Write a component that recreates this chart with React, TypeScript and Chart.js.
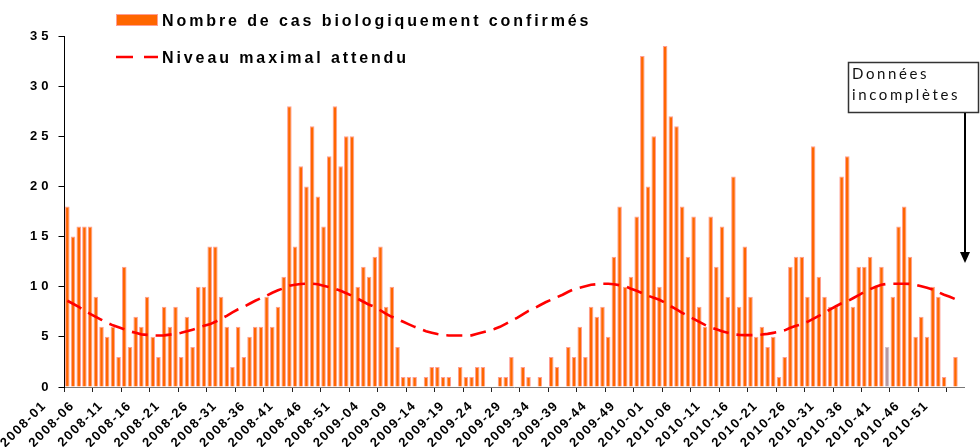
import React, { useEffect, useRef } from 'react';
import { Chart, registerables } from 'chart.js';

Chart.register(...registerables);

// ---- Data -------------------------------------------------------------
const YEARS = [2008, 2009, 2010, 2011];
const WEEKS_PER_YEAR = [52, 53, 52, 1];

const CASES_2008 = [18, 15, 16, 16, 16, 9, 6, 5, 6, 3, 12, 4, 7, 6, 9, 5, 3, 8, 6, 8, 3, 7, 4, 10, 10, 14, 14, 9, 6, 2, 6, 3, 5, 6, 6, 9, 6, 8, 11, 28, 14, 22, 20, 26, 19, 16, 23, 28, 22, 25, 25, 10];
const CASES_2009 = [12, 11, 13, 14, 8, 10, 4, 1, 1, 1, 0, 1, 2, 2, 1, 1, 0, 2, 1, 1, 2, 2, 0, 0, 1, 1, 3, 0, 2, 1, 0, 1, 0, 3, 2, 0, 4, 3, 6, 3, 8, 7, 8, 5, 13, 18, 10, 11, 17, 33, 20, 25, 10];
const CASES_2010 = [34, 27, 26, 18, 13, 17, 8, 6, 17, 12, 16, 9, 21, 8, 14, 9, 5, 6, 4, 5, 1, 3, 12, 13, 13, 9, 24, 11, 9, 8, 8, 21, 23, 8, 12, 12, 13, 10, 12, 4, 9, 16, 18, 13, 5, 7, 5, 10, 9, 1, 0, 3];
const CASES_2011 = [null];

const MAX_2008 = [8.6, 8.3, 8.0, 7.6, 7.3, 7.0, 6.7, 6.4, 6.15, 5.95, 5.75, 5.55, 5.4, 5.25, 5.2, 5.15, 5.13, 5.15, 5.22, 5.3, 5.4, 5.55, 5.72, 5.9, 6.1, 6.25, 6.5, 6.8, 7.1, 7.45, 7.75, 8.0, 8.3, 8.6, 8.85, 9.1, 9.4, 9.65, 9.85, 10.1, 10.2, 10.27, 10.3, 10.3, 10.25, 10.1, 9.95, 9.8, 9.6, 9.35, 9.1, 8.8];
const MAX_2009 = [8.5, 8.2, 8.0, 7.65, 7.3, 7.0, 6.75, 6.5, 6.25, 6.0, 5.78, 5.57, 5.42, 5.28, 5.17, 5.14, 5.13, 5.13, 5.13, 5.15, 5.3, 5.45, 5.6, 5.78, 6.0, 6.3, 6.6, 6.9, 7.25, 7.6, 7.85, 8.15, 8.45, 8.7, 8.95, 9.2, 9.5, 9.75, 9.9, 10.05, 10.2, 10.25, 10.3, 10.3, 10.25, 10.15, 10.05, 9.8, 9.6, 9.35, 9.1, 8.9, 8.7];
const MAX_2010 = [8.4, 8.05, 7.75, 7.4, 7.1, 6.8, 6.5, 6.2, 5.95, 5.75, 5.55, 5.4, 5.25, 5.2, 5.17, 5.17, 5.18, 5.23, 5.3, 5.4, 5.5, 5.65, 5.9, 6.1, 6.25, 6.5, 6.8, 7.1, 7.4, 7.75, 8.05, 8.35, 8.55, 8.85, 9.15, 9.5, 9.75, 10.0, 10.2, 10.28, 10.3, 10.3, 10.3, 10.28, 10.2, 10.05, 9.9, 9.72, 9.45, 9.2, 9.0, 8.75];
const MAX_2011 = [8.5];

const Y_MIN = 0;
const Y_MAX = 35;
const Y_STEP = 5;
const LABEL_EVERY = 5;

const SERIES_CASES = 'Nombre de cas biologiquement confirmés';
const SERIES_MAX = 'Niveau maximal attendu';
const NOTE_LINES = ['Données', 'incomplètes'];
const HIGHLIGHT_WEEK = '2010-40';

// ---- Derived tables -------------------------------------------------------
const WEEK_LABELS: string[] = YEARS.flatMap((year, i) =>
  Array.from({ length: WEEKS_PER_YEAR[i] }, (_, w) => `${year}-${String(w + 1).padStart(2, '0')}`)
);
const CASES = [...CASES_2008, ...CASES_2009, ...CASES_2010, ...CASES_2011];
const MAX_LEVEL = [...MAX_2008, ...MAX_2009, ...MAX_2010, ...MAX_2011];

const ORANGE = '#FF6600';
const ORANGE_EDGE = '#FF9E94';
const RED = '#FF0000';
const FONT = 'Liberation Sans';

const overlay = {
  id: 'overlay',
  beforeDraw(chart: any) {
    chart.ctx.letterSpacing = '4px';
  },
  afterDatasetsDraw(chart: any) {
    chart.ctx.letterSpacing = '1.6px';
  },
  afterDraw(chart: any) {
    const ctx = chart.ctx as CanvasRenderingContext2D;
    ctx.save();
    (ctx as any).letterSpacing = '2.9px';
    // legend row 1
    ctx.fillStyle = ORANGE;
    ctx.fillRect(116, 14, 42, 12);
    ctx.strokeStyle = ORANGE_EDGE;
    ctx.lineWidth = 1;
    ctx.strokeRect(116.5, 14.5, 41, 11);
    ctx.fillStyle = '#000';
    ctx.font = `bold 16px "${FONT}"`;
    ctx.textBaseline = 'alphabetic';
    ctx.textAlign = 'left';
    ctx.fillText(SERIES_CASES, 162, 26);
    // legend row 2
    ctx.strokeStyle = RED;
    ctx.lineWidth = 2.5;
    ctx.setLineDash([17, 11]);
    ctx.beginPath();
    ctx.moveTo(116, 57);
    ctx.lineTo(158, 57);
    ctx.stroke();
    ctx.setLineDash([]);
    ctx.fillText(SERIES_MAX, 162, 63);

    // annotation box
    const ax = chart.scales.x.right + 1;
    ctx.strokeStyle = '#333';
    ctx.lineWidth = 1.5;
    ctx.strokeRect(848.5, 62.5, 130, 50);
    (ctx as any).letterSpacing = '2.6px';
    ctx.font = `15px Lato`;
    ctx.fillStyle = '#111';
    ctx.fillText(NOTE_LINES[0], 852, 79);
    ctx.fillText(NOTE_LINES[1], 852, 100);
    // arrow
    ctx.strokeStyle = '#000';
    ctx.lineWidth = 2;
    ctx.beginPath();
    ctx.moveTo(ax, 113);
    ctx.lineTo(ax, 255);
    ctx.stroke();
    ctx.fillStyle = '#000';
    ctx.beginPath();
    ctx.moveTo(ax - 5, 252);
    ctx.lineTo(ax + 5, 252);
    ctx.lineTo(ax, 263);
    ctx.closePath();
    ctx.fill();
    ctx.restore();
    (ctx as any).letterSpacing = '0px';
  },
};

export default function App() {
  const ref = useRef<HTMLCanvasElement>(null);
  useEffect(() => {
    if (!ref.current) return;
    const chart = new Chart(ref.current, {
      data: {
        labels: WEEK_LABELS,
        datasets: [
          {
            type: 'line',
            label: SERIES_MAX,
            data: MAX_LEVEL,
            borderColor: RED,
            borderWidth: 2.6,
            borderDash: [16, 8],
            pointRadius: 0,
            fill: false,
            tension: 0,
            order: 0,
          },
          {
            type: 'bar',
            label: SERIES_CASES,
            data: CASES,
            backgroundColor: (c: any) => (WEEK_LABELS[c.dataIndex] === HIGHLIGHT_WEEK ? '#B49AA2' : ORANGE),
            borderColor: (c: any) => (WEEK_LABELS[c.dataIndex] === HIGHLIGHT_WEEK ? '#D6C2C8' : ORANGE_EDGE),
            borderWidth: 1,
            barPercentage: 0.8,
            categoryPercentage: 1,
            order: 1,
          },
        ],
      } as any,
      options: {
        responsive: false,
        animation: false,
        devicePixelRatio: 1,
        layout: { padding: { top: 36, right: 16, left: 0.5, bottom: 0 } },
        plugins: { legend: { display: false }, tooltip: { enabled: false } },
        scales: {
          x: {
            type: 'category',
            offset: true,
            grid: {
              offset: true,
              drawOnChartArea: false,
              tickLength: 5,
              lineWidth: 1,
              color: (c: any) => (c.index % LABEL_EVERY === 0 ? '#222' : 'rgba(0,0,0,0)'),
            },
            border: { color: '#777', width: 1 },
            ticks: {
              autoSkip: false,
              maxRotation: 45,
              minRotation: 45,
              labelOffset: -23,
              padding: 6,
              z: 1,
              color: '#000',
              font: { family: FONT, size: 13, weight: 'bold' },
              callback(this: any, v: any, i: number) {
                return i % LABEL_EVERY === 0 ? this.getLabelForValue(v) : '';
              },
            },
            afterFit: (s: any) => {
              s.height = 60;
            },
          },
          y: {
            min: Y_MIN,
            max: Y_MAX,
            grid: { drawOnChartArea: false, tickLength: 6, color: '#000' },
            border: { color: '#000', width: 1 },
            ticks: {
              stepSize: Y_STEP,
              padding: 6,
              color: '#000',
              font: { family: FONT, size: 13, weight: 'bold' },
            },
            afterFit: (s: any) => {
              s.width = 64;
            },
          },
        },
      } as any,
      plugins: [overlay],
    });
    return () => chart.destroy();
  }, []);
  return (
    <div style={{ position: 'fixed', left: 0, top: 0, width: 980, height: 447, background: '#fff' }}>
      <canvas ref={ref} width={980} height={447} style={{ display: 'block', width: 980, height: 447 }} />
    </div>
  );
}
